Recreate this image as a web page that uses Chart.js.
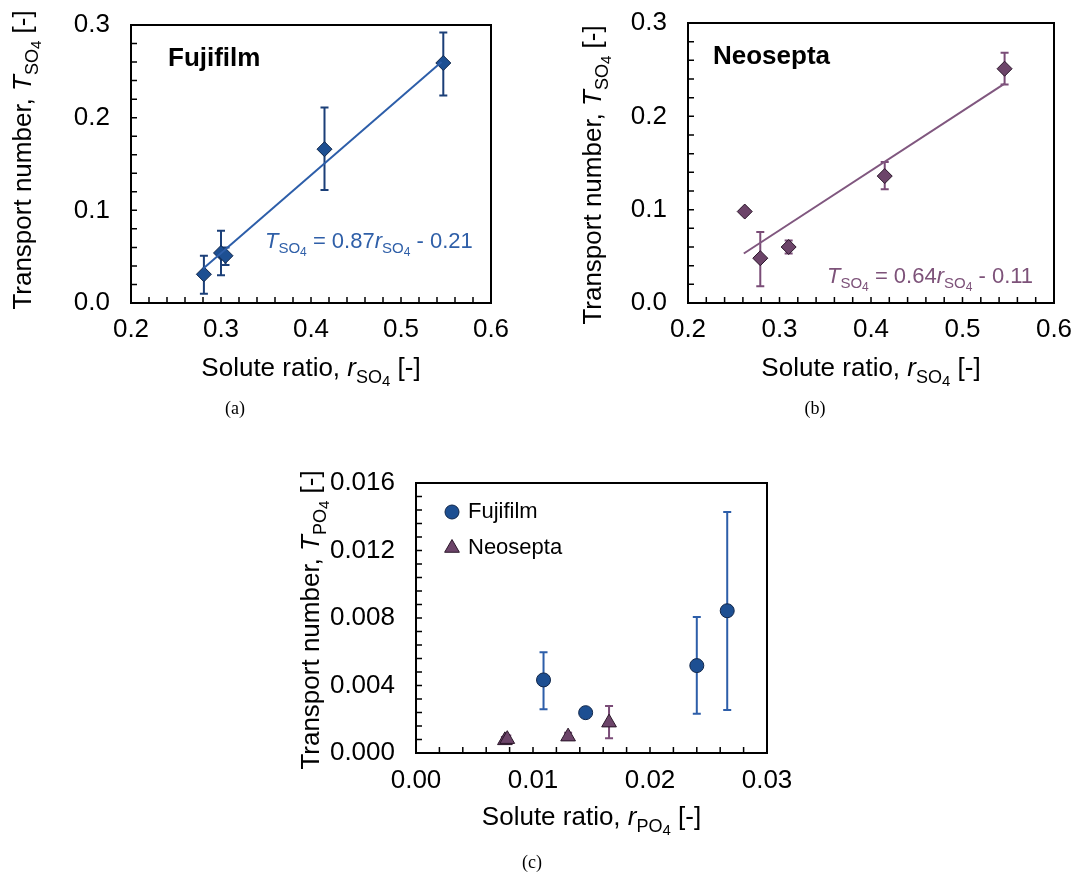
<!DOCTYPE html>
<html><head><meta charset="utf-8">
<script src="https://cdn.jsdelivr.net/npm/chart.js@4.4.1/dist/chart.umd.min.js"></script>
<style>
html,body{margin:0;padding:0;background:#fff;width:1078px;height:877px;overflow:hidden}
canvas{position:absolute;display:block}
</style></head><body>
<canvas id="ca" width="540" height="430" style="left:0;top:0"></canvas>
<canvas id="cb" width="538" height="430" style="left:540px;top:0"></canvas>
<canvas id="cc" width="560" height="437" style="left:260px;top:440px"></canvas>
<script>
// ---------- DATA ----------
// (a) Fujifilm, sulfate
const fujiSO4_r  = [0.281, 0.300, 0.305, 0.415, 0.547];
const fujiSO4_T  = [0.031, 0.054, 0.051, 0.166, 0.259];
const fujiSO4_lo = [0.010, 0.030, 0.041, 0.122, 0.224];
const fujiSO4_hi = [0.051, 0.078, 0.060, 0.211, 0.292];
const fujiFit_r  = [0.280, 0.545];
const fujiFit_T  = [0.037, 0.260];
// (b) Neosepta, sulfate
const neoSO4_r  = [0.262, 0.279, 0.310, 0.415, 0.546];
const neoSO4_T  = [0.098, 0.048, 0.060, 0.136, 0.251];
const neoSO4_lo = [0.095, 0.018, 0.053, 0.122, 0.234];
const neoSO4_hi = [0.101, 0.076, 0.067, 0.151, 0.268];
const neoFit_r  = [0.261, 0.546];
const neoFit_T  = [0.053, 0.235];
// (c) phosphate
const fujiPO4_r  = [0.0109, 0.0145, 0.0240, 0.0266];
const fujiPO4_T  = [0.00433, 0.00239, 0.00518, 0.00843];
const fujiPO4_lo = [0.00260, 0.00230, 0.00233, 0.00255];
const fujiPO4_hi = [0.00597, 0.00248, 0.00806, 0.01428];
const neoPO4_r  = [0.0076, 0.0078, 0.0130, 0.0165];
const neoPO4_T  = [0.00075, 0.00082, 0.00097, 0.00180];
const neoPO4_lo = [0.00060, 0.00068, 0.00085, 0.00087];
const neoPO4_hi = [0.00095, 0.00104, 0.00120, 0.00279];
// tick labels
const xTicksSO4 = ['0.2','0.3','0.4','0.5','0.6'];
const yTicksSO4 = ['0.0','0.1','0.2','0.3'];
const xTicksPO4 = ['0.00','0.01','0.02','0.03'];
const yTicksPO4 = ['0.000','0.004','0.008','0.012','0.016'];

// ---------- STYLE ----------
const F = '"Liberation Sans", Arial, Helvetica, sans-serif';
const SERIF = '"Liberation Serif", "Times New Roman", serif';
const BLUE_M = '#1d4f92', BLUE_L = '#2d5ea9', BLUE_E = '#1b3f78', BLUE_T = '#2f5fa8';
const PUR_M = '#6c4469', PUR_L = '#80577f', PUR_E = '#7a4c77', PUR_T = '#7d5279';
Chart.defaults.font.family = F;
Chart.defaults.color = '#000';

function pts(xs, ys){ return xs.map((x,i)=>({x:x, y:ys[i]})); }

function rich(ctx, parts, x, y, align, rot, color){
  ctx.save(); ctx.translate(x,y); ctx.rotate(rot||0);
  let total = 0;
  parts.forEach(p=>{ ctx.font = p.font; p.w = ctx.measureText(p.t).width; total += p.w; });
  let cx = align==='center' ? -total/2 : (align==='right' ? -total : 0);
  ctx.textBaseline='alphabetic'; ctx.textAlign='left'; ctx.fillStyle = color || '#000';
  parts.forEach(p=>{ ctx.font = p.font; ctx.fillText(p.t, cx, p.dy||0); cx += p.w; });
  ctx.restore();
}
function titleParts(prefix, sym, ion, sz){
  return [
    {t: prefix, font: `${sz}px ${F}`},
    {t: sym, font: `italic ${sz}px ${F}`},
    {t: ion, font: `${Math.round(sz*0.68)}px ${F}`, dy: Math.round(sz*0.25)},
    {t: '4', font: `${Math.round(sz*0.56)}px ${F}`, dy: Math.round(sz*0.4)},
    {t: ' [-]', font: `${sz}px ${F}`}
  ];
}

const errorBars = {
  id: 'errorBars',
  beforeDatasetsDraw(chart){
    const ctx = chart.ctx, xs = chart.scales.x, ys = chart.scales.y;
    chart.data.datasets.forEach(ds=>{
      if(!ds.errLow) return;
      ctx.save(); ctx.strokeStyle = ds.errColor; ctx.lineWidth = 2;
      ds.data.forEach((p,i)=>{
        const px = xs.getPixelForValue(p.x);
        const y1 = ys.getPixelForValue(ds.errLow[i]), y2 = ys.getPixelForValue(ds.errHigh[i]);
        ctx.beginPath();
        ctx.moveTo(px, y1); ctx.lineTo(px, y2);
        ctx.moveTo(px-4, y1); ctx.lineTo(px+4, y1);
        ctx.moveTo(px-4, y2); ctx.lineTo(px+4, y2);
        ctx.stroke();
      });
      ctx.restore();
    });
  }
};

const frame = {
  id: 'frame',
  afterDraw(chart, args, o){
    const ctx = chart.ctx, a = chart.chartArea, xs = chart.scales.x, ys = chart.scales.y;
    ctx.save(); ctx.strokeStyle = '#000'; ctx.lineWidth = 1.5;
    ctx.beginPath();
    const n1 = Math.round((xs.max - xs.min)/o.minorX);
    for(let i=1;i<n1;i++){ const px = xs.getPixelForValue(xs.min + i*o.minorX); ctx.moveTo(px, a.bottom); ctx.lineTo(px, a.bottom-6); }
    const n2 = Math.round((ys.max - ys.min)/o.minorY);
    for(let i=1;i<n2;i++){ const py = ys.getPixelForValue(ys.min + i*o.minorY); ctx.moveTo(a.left, py); ctx.lineTo(a.left+6, py); }
    ctx.stroke();
    ctx.lineWidth = 2;
    ctx.strokeRect(a.left, a.top, a.right-a.left, a.bottom-a.top);
    ctx.restore();
    if(o.extra) o.extra(ctx, chart);
  }
};

function scales(xmin,xmax,ymin,ymax,xt,yt,yW,xH,xPad){
  return {
    x: {type:'linear', min:xmin, max:xmax,
        afterBuildTicks: ax=>{ ax.ticks = xt.map(v=>({value: parseFloat(v)})); },
        afterFit: ax=>{ ax.height = xH; },
        grid:{display:false, drawTicks:true, tickLength:xPad}, border:{display:false},
        ticks:{font:{size:26}, padding:0, maxRotation:0, callback:(v,i)=>xt[i]}},
    y: {type:'linear', min:ymin, max:ymax,
        afterBuildTicks: ax=>{ ax.ticks = yt.map(v=>({value: parseFloat(v)})); },
        afterFit: ax=>{ ax.width = yW; },
        grid:{display:false, drawTicks:true, tickLength:21}, border:{display:false},
        ticks:{font:{size:26}, padding:0, callback:(v,i)=>yt[i]}}
  };
}

const common = {responsive:false, animation:false, events:[]};

// ---------- (a) ----------
new Chart(document.getElementById('ca'), {
  type:'scatter',
  data:{datasets:[
    {data: pts(fujiFit_r, fujiFit_T), showLine:true, borderColor:BLUE_L, borderWidth:2, pointRadius:0},
    {data: pts(fujiSO4_r, fujiSO4_T), pointStyle:'rectRot', pointRadius:7.5, backgroundColor:BLUE_M, borderColor:'#10264a', borderWidth:1,
     errLow: fujiSO4_lo, errHigh: fujiSO4_hi, errColor: BLUE_E}
  ]},
  options:{...common,
    layout:{padding:{left:0, top:25, right:49, bottom:0}},
    scales: scales(0.2,0.6,0,0.3,xTicksSO4,yTicksSO4,131,127,11),
    plugins:{legend:{display:false}, tooltip:{enabled:false},
      frame:{minorX:0.02, minorY:0.02, extra:(ctx)=>{
        rich(ctx, titleParts('Transport number, ','T','SO',26), 31, 160, 'center', -Math.PI/2);
        rich(ctx, titleParts('Solute ratio, ','r','SO',26), 311, 376, 'center', 0);
        ctx.save(); ctx.font = `bold 26px ${F}`; ctx.fillStyle='#000'; ctx.fillText('Fujifilm', 168, 66);
        ctx.font = `18px ${SERIF}`; ctx.textAlign='center'; ctx.fillText('(a)', 235, 414); ctx.restore();
        rich(ctx, [
          {t:'T', font:`italic 22px ${F}`},{t:'SO', font:`15px ${F}`, dy:5},{t:'4', font:`12px ${F}`, dy:8},
          {t:' = 0.87', font:`22px ${F}`},{t:'r', font:`italic 22px ${F}`},{t:'SO', font:`15px ${F}`, dy:5},{t:'4', font:`12px ${F}`, dy:8},
          {t:' - 0.21', font:`22px ${F}`}], 265, 248, 'left', 0, BLUE_T);
      }}}
  },
  plugins:[errorBars, frame]
});

// ---------- (b) ----------
new Chart(document.getElementById('cb'), {
  type:'scatter',
  data:{datasets:[
    {data: pts(neoFit_r, neoFit_T), showLine:true, borderColor:PUR_L, borderWidth:2, pointRadius:0},
    {data: pts(neoSO4_r, neoSO4_T), pointStyle:'rectRot', pointRadius:7.5, backgroundColor:PUR_M, borderColor:'#2a1629', borderWidth:1,
     errLow: neoSO4_lo, errHigh: neoSO4_hi, errColor: PUR_E}
  ]},
  options:{...common,
    layout:{padding:{left:0, top:23, right:24, bottom:0}},
    scales: scales(0.2,0.6,0,0.3,xTicksSO4,yTicksSO4,148,127,11),
    plugins:{legend:{display:false}, tooltip:{enabled:false},
      frame:{minorX:0.02, minorY:0.02, extra:(ctx)=>{
        rich(ctx, titleParts('Transport number, ','T','SO',26), 61, 175, 'center', -Math.PI/2);
        rich(ctx, titleParts('Solute ratio, ','r','SO',26), 331, 376, 'center', 0);
        ctx.save(); ctx.font = `bold 26px ${F}`; ctx.fillStyle='#000'; ctx.fillText('Neosepta', 173, 64);
        ctx.font = `18px ${SERIF}`; ctx.textAlign='center'; ctx.fillText('(b)', 275, 414); ctx.restore();
        rich(ctx, [
          {t:'T', font:`italic 22px ${F}`},{t:'SO', font:`15px ${F}`, dy:5},{t:'4', font:`12px ${F}`, dy:8},
          {t:' = 0.64', font:`22px ${F}`},{t:'r', font:`italic 22px ${F}`},{t:'SO', font:`15px ${F}`, dy:5},{t:'4', font:`12px ${F}`, dy:8},
          {t:' - 0.11', font:`22px ${F}`}], 287, 283, 'left', 0, PUR_T);
      }}}
  },
  plugins:[errorBars, frame]
});

// ---------- (c) ----------
new Chart(document.getElementById('cc'), {
  type:'scatter',
  data:{datasets:[
    {label:'Fujifilm', data: pts(fujiPO4_r, fujiPO4_T), pointStyle:'circle', pointRadius:7, backgroundColor:BLUE_M, borderColor:'#10264a', borderWidth:1,
     errLow: fujiPO4_lo, errHigh: fujiPO4_hi, errColor: BLUE_L},
    {label:'Neosepta', data: pts(neoPO4_r, neoPO4_T), pointStyle:'triangle', pointRadius:8.5, backgroundColor:PUR_M, borderColor:'#2a1629', borderWidth:1,
     errLow: neoPO4_lo, errHigh: neoPO4_hi, errColor: PUR_E}
  ]},
  options:{...common,
    layout:{padding:{left:0, top:43, right:53, bottom:0}},
    scales: scales(0,0.03,0,0.016,xTicksPO4,yTicksPO4,156,124,12),
    plugins:{legend:{display:false}, tooltip:{enabled:false},
      frame:{minorX:0.002, minorY:0.0008, extra:(ctx, chart)=>{
        rich(ctx, titleParts('Transport number, ','T','PO',26), 59, 180, 'center', -Math.PI/2);
        rich(ctx, titleParts('Solute ratio, ','r','PO',26), 331.5, 385, 'center', 0);
        ctx.save(); ctx.font = `18px ${SERIF}`; ctx.fillStyle='#000'; ctx.textAlign='center'; ctx.fillText('(c)', 272, 428);
        // legend
        const ds = chart.data.datasets;
        const rows = [[ds[0], 72], [ds[1], 108]];
        rows.forEach(([d, yy])=>{
          ctx.fillStyle = d.backgroundColor; ctx.strokeStyle = d.borderColor; ctx.lineWidth = 1;
          Chart.helpers.drawPoint(ctx, {pointStyle: d.pointStyle, radius: d.pointRadius, borderWidth:1}, 192, yy);
          ctx.fillStyle = '#000'; ctx.font = `22px ${F}`; ctx.textAlign='left'; ctx.textBaseline='middle';
          ctx.fillText(d.label, 208, yy);
        });
        ctx.restore();
      }}}
  },
  plugins:[errorBars, frame]
});
</script>
</body></html>
